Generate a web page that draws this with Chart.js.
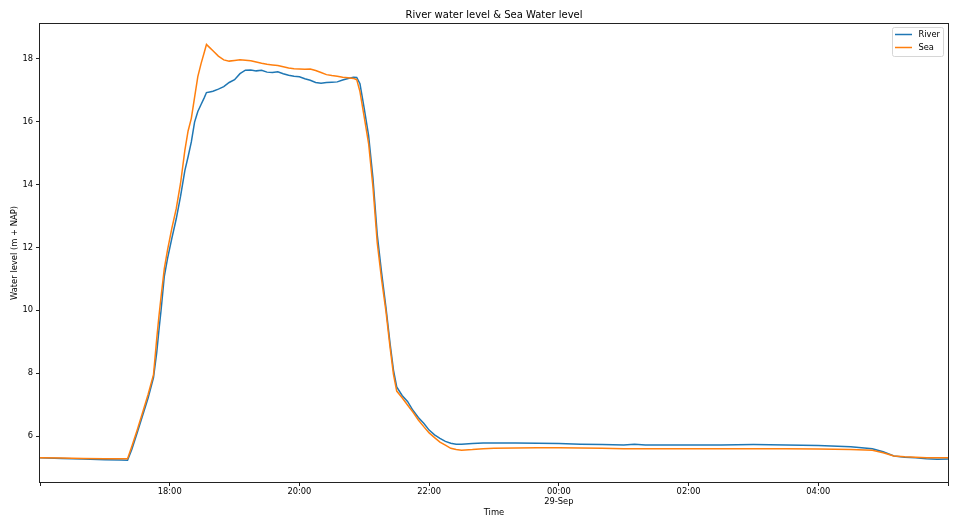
<!DOCTYPE html>
<html>
<head>
<meta charset="utf-8">
<script src="https://cdn.jsdelivr.net/npm/chart.js@4"></script>
<style>
    html, body { margin: 0; padding: 0; background: #fff; }
    #wrap { width: 960px; height: 525px; position: relative; }
</style>
</head>
<body>
<div id="wrap"><canvas id="chart" width="960" height="525"></canvas></div>
<script>
// measurement times (28-Sep 16:00 -> 29-Sep 06:00)
const times = [
    "16:00", "16:20", "16:40", "17:00", "17:15", "17:21", "17:25", "17:30", "17:35", "17:40",
    "17:45", "17:48", "17:50", "17:52", "17:55", "17:58", "18:02", "18:06", "18:10", "18:14",
    "18:17", "18:20", "18:23", "18:26", "18:29", "18:32", "18:34", "18:37", "18:40", "18:45",
    "18:50", "18:55", "19:00", "19:05", "19:10", "19:15", "19:20", "19:25", "19:30", "19:35",
    "19:40", "19:45", "19:50", "19:55", "20:00", "20:05", "20:10", "20:15", "20:20", "20:25",
    "20:30", "20:35", "20:40", "20:45", "20:50", "20:53", "20:56", "21:00", "21:04", "21:08",
    "21:12", "21:16", "21:20", "21:24", "21:27", "21:30", "21:35", "21:40", "21:45", "21:50",
    "21:55", "22:00", "22:05", "22:10", "22:15", "22:20", "22:25", "22:30", "22:40", "22:50",
    "23:00", "23:20", "23:40", "00:00", "00:20", "00:40", "01:00", "01:10", "01:20", "01:40",
    "02:00", "02:30", "03:00", "03:30", "04:00", "04:30", "04:50", "05:00", "05:10", "05:20",
    "05:30", "05:40", "05:50", "06:00"
]

const river = [
    5.31, 5.29, 5.27, 5.25, 5.24, 5.23, 5.58, 6.11, 6.66, 7.21,
    7.86, 8.66, 9.36, 10.0, 11.08, 11.65, 12.29, 12.90, 13.62, 14.44,
    14.88, 15.35, 15.98, 16.32, 16.54, 16.76, 16.92, 16.94, 16.96, 17.03,
    17.11, 17.24, 17.33, 17.52, 17.63, 17.64, 17.61, 17.63, 17.57, 17.56,
    17.58, 17.52, 17.47, 17.44, 17.42, 17.36, 17.31, 17.24, 17.22, 17.24,
    17.25, 17.26, 17.32, 17.37, 17.41, 17.40, 17.20, 16.40, 15.55, 14.20,
    12.40, 11.20, 10.10, 8.90, 8.10, 7.56, 7.29, 7.10, 6.82, 6.59,
    6.41, 6.19, 6.04, 5.93, 5.83, 5.77, 5.74, 5.74, 5.76, 5.78,
    5.78, 5.78, 5.77, 5.76, 5.74, 5.73, 5.72, 5.74, 5.72, 5.72,
    5.72, 5.72, 5.73, 5.72, 5.70, 5.66, 5.60, 5.50, 5.37, 5.33,
    5.31, 5.28, 5.26, 5.27
]

const sea = [
    5.31, 5.30, 5.29, 5.28, 5.28, 5.28, 5.68, 6.20, 6.76, 7.32,
    7.95, 9.10, 9.80, 10.43, 11.32, 11.92, 12.61, 13.22, 14.03, 15.08,
    15.70, 16.10, 16.77, 17.43, 17.84, 18.20, 18.45, 18.35, 18.25, 18.08,
    17.96, 17.92, 17.94, 17.96, 17.95, 17.93, 17.89, 17.85, 17.82, 17.80,
    17.78, 17.74, 17.70, 17.68, 17.67, 17.66, 17.67, 17.62, 17.56, 17.49,
    17.46, 17.44, 17.41, 17.39, 17.37, 17.33, 16.95, 16.13, 15.30, 13.93,
    12.14, 10.98, 9.98, 8.78, 7.96, 7.43, 7.22, 6.99, 6.76, 6.51,
    6.30, 6.10, 5.95, 5.81, 5.71, 5.61, 5.57, 5.55, 5.57, 5.60,
    5.61, 5.62, 5.63, 5.63, 5.62, 5.61, 5.60, 5.60, 5.60, 5.60,
    5.60, 5.60, 5.60, 5.60, 5.59, 5.57, 5.55, 5.47, 5.37, 5.34,
    5.33, 5.31, 5.31, 5.31
]

// one label every two hours, the ends have no label
const x_tick_labels = ["", "18:00", "20:00", "22:00", ["00:00", "29-Sep"], "02:00", "04:00", ""]
const y_ticks = [6, 8, 10, 12, 14, 16, 18]

const FONT = "'DejaVu Sans', sans-serif"
const BLUE = "#1f77b4"
const ORANGE = "#ff7f0e"

// minutes since 16:00, wrapping past midnight
function to_minutes(t) {
    const [h, m] = t.split(":").map(Number)
    let mins = h * 60 + m - 16 * 60
    if (mins < 0) mins += 24 * 60
    return mins
}

const xs = times.map(to_minutes)
const river_points = xs.map((x, i) => ({ x: x, y: river[i] }))
const sea_points = xs.map((x, i) => ({ x: x, y: sea[i] }))

// title, axis labels, frame and legend drawn the matplotlib way
const decorations = {
    id: "decorations",
    afterDraw(chart) {
        const ctx = chart.ctx
        const area = chart.chartArea
        ctx.save()

        ctx.strokeStyle = "#222"
        ctx.lineWidth = 1
        ctx.strokeRect(Math.round(area.left) - 0.5, Math.round(area.top) - 0.5,
            Math.round(area.right - area.left) + 1, Math.round(area.bottom - area.top) + 1)

        const cx = (area.left + area.right) / 2
        ctx.fillStyle = "#000"
        ctx.textAlign = "center"
        ctx.textBaseline = "middle"
        ctx.font = "10px " + FONT
        ctx.fillText("River water level & Sea Water level", cx, 15)

        ctx.font = "8.4px " + FONT
        ctx.fillText("Time", cx, 513)

        ctx.save()
        ctx.translate(15, (area.top + area.bottom) / 2)
        ctx.rotate(-Math.PI / 2)
        ctx.fillText("Water level (m + NAP)", 0, 0)
        ctx.restore()

        // legend box
        const lx = 892, ly = 27, lw = 51, lh = 29
        ctx.fillStyle = "rgba(255,255,255,0.8)"
        ctx.strokeStyle = "#d6d6d6"
        ctx.beginPath()
        ctx.roundRect(lx + 0.5, ly + 0.5, lw, lh, 2)
        ctx.fill()
        ctx.stroke()

        const entries = [["River", BLUE, 34.5], ["Sea", ORANGE, 47.5]]
        ctx.textAlign = "left"
        ctx.font = "8.3px " + FONT
        for (const [name, color, y] of entries) {
            ctx.strokeStyle = color
            ctx.lineWidth = 1.5
            ctx.beginPath()
            ctx.moveTo(895, y)
            ctx.lineTo(912, y)
            ctx.stroke()
            ctx.fillStyle = "#000"
            ctx.fillText(name, 918.5, y)
        }
        ctx.restore()
    }
}

new Chart("chart", {
    type: "line",
    data: {
        datasets: [{
            label: "River",
            data: river_points,
            borderColor: BLUE,
            borderWidth: 1.5,
            pointRadius: 0,
            tension: 0,
            order: 1
        }, {
            label: "Sea",
            data: sea_points,
            borderColor: ORANGE,
            borderWidth: 1.5,
            pointRadius: 0,
            tension: 0,
            order: 0
        }]
    },
    options: {
        responsive: false,
        animation: false,
        layout: {
            padding: { left: 0, right: 12, top: 24, bottom: 0 }
        },
        plugins: {
            legend: { display: false },
            tooltip: { enabled: false }
        },
        scales: {
            x: {
                type: "linear",
                min: 0,
                max: 840,
                afterFit: (scale) => { scale.height = 43 },
                afterBuildTicks: (scale) => {
                    scale.ticks = x_tick_labels.map((_, i) => ({ value: i * 120 }))
                },
                grid: {
                    drawOnChartArea: false,
                    drawTicks: true,
                    tickLength: 4,
                    color: "#222"
                },
                border: { display: false },
                ticks: {
                    autoSkip: false,
                    maxRotation: 0,
                    padding: 1,
                    color: "#000",
                    font: { family: FONT, size: 8.3 },
                    callback: (value) => x_tick_labels[Math.round(value / 120)]
                }
            },
            y: {
                min: 4.54,
                max: 19.10,
                afterFit: (scale) => { scale.width = 40 },
                afterBuildTicks: (scale) => {
                    scale.ticks = y_ticks.map((v) => ({ value: v }))
                },
                grid: {
                    drawOnChartArea: false,
                    drawTicks: true,
                    tickLength: 4,
                    color: "#222"
                },
                border: { display: false },
                ticks: {
                    padding: 3,
                    color: "#000",
                    font: { family: FONT, size: 8.3 },
                    callback: (value) => String(value)
                }
            }
        }
    },
    plugins: [decorations]
});
</script>
</body>
</html>
